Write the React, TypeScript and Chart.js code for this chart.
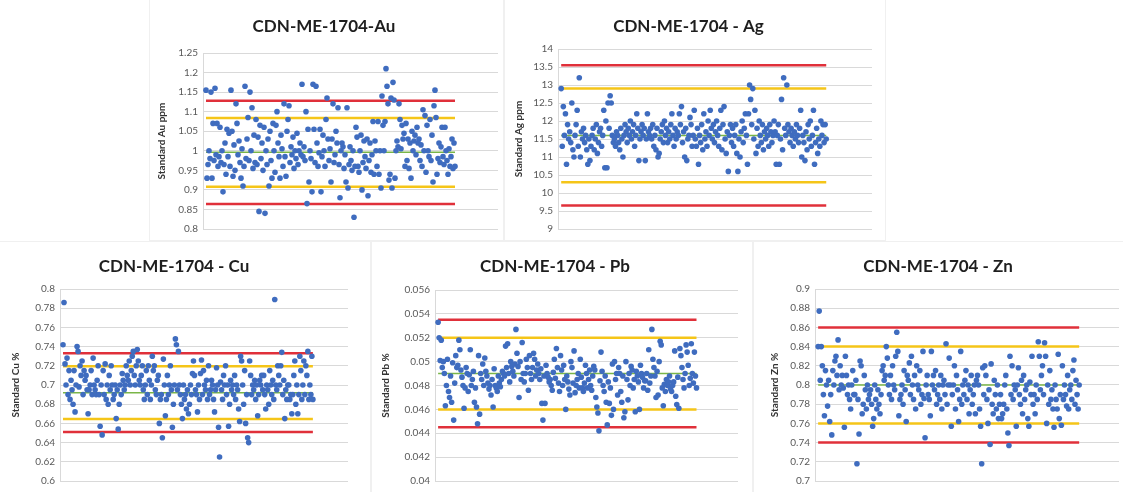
import React, { useEffect, useRef } from "react";
import { Chart, registerables } from "chart.js";

Chart.register(...registerables);

// ---------------- DATA ----------------
const auValues = [
  1.155, 0.93, 0.965, 1.0, 0.98, 1.15, 0.93, 1.07, 0.975, 1.16, 0.99, 1.07, 0.96, 0.985, 1.06, 0.97, 1.0, 0.895, 0.965, 1.02, 0.94, 1.055, 0.985, 1.045, 0.96,
  1.155, 1.05, 0.935, 1.015, 0.95, 1.12, 1.07, 0.99, 1.025, 0.97, 0.93, 1.005, 0.91, 0.96, 1.165, 0.98, 1.03, 1.085, 0.975, 1.15, 1.0, 1.11, 0.955, 1.04, 0.97,
  1.08, 0.965, 1.035, 0.845, 1.065, 0.98, 1.02, 0.95, 1.06, 0.84, 1.0, 0.965, 1.03, 0.91, 1.05, 0.975, 0.93, 1.07, 1.0, 0.945, 1.065, 1.1, 1.02, 0.985, 0.93,
  1.04, 1.005, 0.96, 1.12, 0.985, 0.935, 1.05, 1.08, 1.115, 0.97, 1.01, 0.99, 1.035, 0.955, 1.0, 0.98, 1.045, 0.965, 1.0, 1.02, 0.99, 1.17, 0.985, 1.01, 0.975,
  1.1, 0.865, 1.055, 0.92, 1.0, 0.98, 0.895, 1.17, 1.055, 0.97, 1.165, 1.02, 0.96, 0.995, 1.055, 0.895, 0.985, 1.04, 1.0, 0.96, 1.08, 1.135, 1.03, 0.975, 1.005,
  0.92, 1.03, 1.12, 0.97, 0.99, 1.05, 1.02, 1.11, 0.965, 0.88, 1.0, 1.02, 1.01, 0.955, 0.99, 0.92, 1.11, 0.905, 0.965, 1.01, 0.975, 0.95, 1.0, 0.83, 0.96,
  1.06, 1.035, 0.96, 0.945, 1.0, 1.04, 0.9, 0.97, 1.025, 0.985, 0.955, 1.03, 0.885, 0.975, 1.02, 0.945, 0.99, 1.075, 0.94, 1.025, 1.0, 0.96, 1.075, 0.94, 1.0,
  0.905, 1.14, 1.065, 1.0, 1.075, 1.21, 1.165, 1.12, 0.925, 0.94, 1.135, 0.905, 1.175, 1.13, 0.93, 1.0, 1.025, 1.01, 1.12, 1.08, 1.005, 1.065, 1.03, 1.045, 0.96,
  1.07, 0.975, 1.03, 0.955, 1.02, 0.93, 1.05, 1.0, 1.025, 1.04, 0.99, 1.06, 1.02, 1.03, 0.975, 1.015, 0.96, 1.105, 1.0, 1.09, 0.945, 1.065, 1.0, 0.985, 1.08,
  0.975, 1.04, 0.92, 1.115, 1.155, 1.085, 0.94, 0.98, 1.02, 0.97, 1.01, 1.06, 0.985, 0.965, 1.06, 1.0, 0.975, 0.94, 1.005, 0.96, 0.985, 1.03, 0.955, 1.02, 0.96,
];
const auLimits = [0.864, 0.908, 0.996, 1.084, 1.128];
const auTicks = [0.8, 1.25, 0.05];

const agValues = [
  12.9, 11.3, 12.4, 11.6, 12.2, 10.8, 11.9, 11.5, 11.7, 11.4, 12.5, 11.2, 11.0, 11.6, 11.9, 12.3, 11.3, 13.2, 11.0, 11.7, 11.5, 11.8, 11.4, 11.6, 11.2,
  10.8, 11.5, 10.9, 11.3, 11.6, 11.8, 11.2, 11.5, 11.9, 11.1, 11.4, 11.7, 11.8, 11.3, 11.6, 12.3, 10.7, 12.0, 10.7, 12.5, 11.8, 12.7, 12.5, 11.6, 11.4,
  11.5, 11.3, 11.7, 11.6, 11.4, 11.2, 11.8, 11.5, 11.0, 11.6, 11.9, 11.7, 11.4, 11.8, 11.6, 12.0, 11.5, 11.7, 11.9, 11.3, 11.6, 12.2, 11.8, 10.9, 11.5,
  11.7, 11.9, 11.6, 11.8, 10.9, 11.5, 12.2, 11.7, 11.6, 11.8, 11.5, 11.9, 11.3, 11.6, 11.2, 11.8, 11.0, 11.1, 11.5, 11.7, 11.9, 11.4, 12.0, 11.6, 11.8,
  11.4, 11.7, 11.5, 11.9, 12.2, 11.6, 11.3, 11.8, 11.5, 11.7, 11.6, 12.2, 11.9, 12.4, 11.4, 11.7, 11.0, 11.8, 10.9, 11.5, 11.6, 12.1, 11.9, 11.3, 11.6,
  12.3, 11.5, 11.3, 11.8, 10.8, 11.6, 11.4, 11.9, 11.2, 12.2, 11.5, 11.7, 11.3, 12.0, 11.6, 12.3, 11.8, 11.5, 11.9, 11.4, 11.7, 12.0, 11.6, 11.3, 11.8,
  12.3, 11.2, 11.9, 12.4, 11.5, 11.1, 11.7, 10.6, 11.6, 11.9, 11.4, 11.8, 11.3, 11.6, 11.9, 11.1, 10.6, 11.5, 11.0, 11.7, 12.0, 11.4, 11.8, 12.2, 11.6,
  10.8, 12.2, 13.0, 12.6, 11.9, 12.9, 11.5, 12.3, 11.1, 11.8, 11.3, 12.0, 11.6, 11.4, 11.9, 11.2, 11.7, 11.5, 11.8, 11.6, 11.3, 11.9, 11.7, 11.4, 11.6,
  12.0, 11.7, 10.8, 11.6, 11.9, 10.8, 11.5, 12.6, 11.2, 13.2, 11.8, 11.6, 13.0, 11.9, 11.7, 11.4, 11.8, 11.6, 11.3, 11.7, 11.5, 11.9, 11.6, 11.4, 11.8,
  12.3, 11.0, 11.6, 11.4, 10.9, 11.7, 11.2, 11.9, 11.5, 12.0, 11.3, 11.6, 12.3, 10.8, 11.4, 11.8, 11.1, 11.5, 11.3, 12.0, 11.6, 11.9, 11.4, 11.9, 11.5,
];
const agLimits = [9.65, 10.3, 11.6, 12.9, 13.55];
const agTicks = [9, 14, 0.5];

const cuValues = [
  0.742, 0.786, 0.722, 0.7, 0.728, 0.69, 0.715, 0.685, 0.705, 0.695, 0.68, 0.715, 0.672, 0.7, 0.74, 0.735, 0.698, 0.72, 0.71, 0.725, 0.69, 0.715, 0.705, 0.71, 0.695,
  0.67, 0.695, 0.7, 0.715, 0.69, 0.728, 0.7, 0.695, 0.69, 0.705, 0.72, 0.69, 0.657, 0.7, 0.648, 0.715, 0.69, 0.722, 0.685, 0.7, 0.68, 0.71, 0.695, 0.72, 0.7,
  0.685, 0.69, 0.7, 0.665, 0.695, 0.654, 0.68, 0.7, 0.69, 0.712, 0.705, 0.695, 0.7, 0.72, 0.71, 0.705, 0.725, 0.7, 0.715, 0.73, 0.735, 0.71, 0.7, 0.72, 0.737,
  0.725, 0.705, 0.7, 0.71, 0.72, 0.695, 0.685, 0.7, 0.715, 0.69, 0.72, 0.705, 0.685, 0.7, 0.73, 0.715, 0.72, 0.695, 0.69, 0.705, 0.71, 0.66, 0.685, 0.69, 0.645,
  0.727, 0.7, 0.668, 0.685, 0.71, 0.69, 0.7, 0.72, 0.695, 0.656, 0.68, 0.7, 0.748, 0.742, 0.695, 0.735, 0.7, 0.69, 0.68, 0.665, 0.7, 0.685, 0.69, 0.675, 0.695,
  0.67, 0.68, 0.7, 0.69, 0.712, 0.725, 0.71, 0.695, 0.69, 0.672, 0.7, 0.685, 0.712, 0.726, 0.69, 0.715, 0.7, 0.695, 0.705, 0.685, 0.72, 0.69, 0.695, 0.705, 0.7,
  0.685, 0.672, 0.695, 0.718, 0.7, 0.656, 0.625, 0.703, 0.695, 0.685, 0.71, 0.7, 0.72, 0.69, 0.7, 0.657, 0.68, 0.705, 0.695, 0.7, 0.69, 0.71, 0.685, 0.7, 0.695,
  0.675, 0.662, 0.73, 0.725, 0.7, 0.68, 0.715, 0.66, 0.69, 0.645, 0.64, 0.725, 0.71, 0.69, 0.7, 0.695, 0.705, 0.685, 0.7, 0.668, 0.69, 0.705, 0.7, 0.71, 0.695,
  0.71, 0.69, 0.675, 0.7, 0.695, 0.68, 0.715, 0.7, 0.69, 0.705, 0.685, 0.789, 0.7, 0.695, 0.72, 0.71, 0.7, 0.72, 0.734, 0.69, 0.705, 0.665, 0.695, 0.685, 0.7,
  0.7, 0.685, 0.69, 0.67, 0.69, 0.71, 0.725, 0.68, 0.7, 0.67, 0.69, 0.73, 0.715, 0.685, 0.7, 0.725, 0.69, 0.72, 0.71, 0.735, 0.685, 0.7, 0.69, 0.73, 0.685,
];
const cuLimits = [0.651, 0.6645, 0.692, 0.7195, 0.733];
const cuTicks = [0.6, 0.8, 0.02];

const pbValues = [
  0.0533, 0.052, 0.0501, 0.0518, 0.0495, 0.05, 0.049, 0.0463, 0.048, 0.0502, 0.0475, 0.047, 0.0488, 0.0466, 0.0499, 0.0451, 0.0482, 0.0505, 0.0495, 0.0497, 0.0518, 0.051, 0.0493, 0.0487, 0.048,
  0.0461, 0.0478, 0.0495, 0.049, 0.0475, 0.0489, 0.051, 0.048, 0.0485, 0.0492, 0.0466, 0.0478, 0.0462, 0.0448, 0.0505, 0.0456, 0.049, 0.0485, 0.0498, 0.048, 0.0503, 0.0492, 0.0488, 0.0482, 0.0477,
  0.048, 0.0472, 0.0485, 0.0462, 0.0494, 0.048, 0.0478, 0.0475, 0.0488, 0.0482, 0.0479, 0.0485, 0.0492, 0.049, 0.0488, 0.0513, 0.0495, 0.0515, 0.049, 0.0483, 0.05, 0.0496, 0.0492, 0.0488, 0.0498,
  0.0527, 0.0507, 0.0496, 0.047, 0.05, 0.0485, 0.0516, 0.049, 0.0483, 0.049, 0.0502, 0.0495, 0.0476, 0.0505, 0.049, 0.0485, 0.0495, 0.0507, 0.0502, 0.0488, 0.0493, 0.0498, 0.049, 0.0485, 0.0494,
  0.0465, 0.0451, 0.0488, 0.0465, 0.0497, 0.049, 0.0487, 0.0483, 0.0485, 0.048, 0.0476, 0.0491, 0.0502, 0.0486, 0.0511, 0.0495, 0.0482, 0.0475, 0.0505, 0.0493, 0.048, 0.0497, 0.0485, 0.046, 0.0488,
  0.0483, 0.0477, 0.0472, 0.05, 0.0495, 0.0482, 0.0509, 0.0474, 0.048, 0.0485, 0.049, 0.0478, 0.0502, 0.0487, 0.0478, 0.0475, 0.0482, 0.0497, 0.049, 0.0478, 0.0485, 0.0493, 0.048, 0.0476, 0.0488,
  0.0496, 0.0493, 0.047, 0.0462, 0.0457, 0.0442, 0.0484, 0.0508, 0.0492, 0.048, 0.0475, 0.0488, 0.0466, 0.0447, 0.0483, 0.0465, 0.0478, 0.0455, 0.0498, 0.046, 0.05, 0.0485, 0.049, 0.0472, 0.0495,
  0.049, 0.0475, 0.0466, 0.0488, 0.0453, 0.0458, 0.05, 0.0485, 0.0468, 0.049, 0.048, 0.0496, 0.0493, 0.0478, 0.0485, 0.0458, 0.0492, 0.0488, 0.0483, 0.046, 0.0497, 0.049, 0.0487, 0.0478, 0.0484,
  0.0484, 0.049, 0.0476, 0.051, 0.0482, 0.0488, 0.0527, 0.0502, 0.0495, 0.0488, 0.047, 0.0492, 0.0472, 0.05, 0.0517, 0.0514, 0.0478, 0.0463, 0.0481, 0.0475, 0.0485, 0.048, 0.0483, 0.0488, 0.0477,
  0.0475, 0.048, 0.0483, 0.0509, 0.0471, 0.0464, 0.0487, 0.0461, 0.0511, 0.0505, 0.0495, 0.0485, 0.0478, 0.049, 0.0514, 0.0508, 0.0497, 0.048, 0.0486, 0.0515, 0.049, 0.0482, 0.0508, 0.0488, 0.0478,
];
const pbLimits = [0.0445, 0.046, 0.049, 0.052, 0.0535];
const pbTicks = [0.04, 0.056, 0.002];

const znValues = [
  0.84, 0.877, 0.805, 0.84, 0.82, 0.79, 0.768, 0.815, 0.8, 0.778, 0.805, 0.762, 0.79, 0.748, 0.815, 0.8, 0.825, 0.83, 0.81, 0.847, 0.795, 0.82, 0.8, 0.81, 0.797,
  0.756, 0.83, 0.81, 0.79, 0.8, 0.785, 0.775, 0.8, 0.815, 0.79, 0.79, 0.805, 0.718, 0.785, 0.749, 0.825, 0.82, 0.77, 0.78, 0.81, 0.795, 0.775, 0.8, 0.785, 0.79,
  0.795, 0.78, 0.757, 0.765, 0.8, 0.785, 0.775, 0.795, 0.78, 0.77, 0.79, 0.815, 0.82, 0.805, 0.81, 0.84, 0.828, 0.8, 0.79, 0.81, 0.785, 0.82, 0.8, 0.795, 0.83,
  0.855, 0.835, 0.768, 0.785, 0.79, 0.8, 0.78, 0.815, 0.795, 0.762, 0.81, 0.805, 0.823, 0.79, 0.83, 0.8, 0.785, 0.81, 0.775, 0.82, 0.8, 0.795, 0.815, 0.78, 0.79,
  0.835, 0.786, 0.745, 0.8, 0.81, 0.79, 0.785, 0.768, 0.835, 0.8, 0.81, 0.795, 0.815, 0.78, 0.79, 0.8, 0.785, 0.81, 0.775, 0.8, 0.805, 0.79, 0.843, 0.78, 0.8,
  0.828, 0.8, 0.757, 0.79, 0.8, 0.82, 0.775, 0.81, 0.795, 0.762, 0.785, 0.835, 0.78, 0.8, 0.79, 0.805, 0.815, 0.785, 0.8, 0.77, 0.795, 0.81, 0.78, 0.79, 0.8,
  0.77, 0.805, 0.81, 0.8, 0.775, 0.757, 0.718, 0.818, 0.79, 0.82, 0.81, 0.785, 0.76, 0.795, 0.738, 0.822, 0.78, 0.77, 0.805, 0.79, 0.775, 0.8, 0.765, 0.78, 0.79,
  0.765, 0.77, 0.78, 0.8, 0.81, 0.775, 0.75, 0.737, 0.83, 0.79, 0.82, 0.785, 0.8, 0.795, 0.757, 0.8, 0.818, 0.79, 0.78, 0.805, 0.77, 0.81, 0.785, 0.795, 0.8,
  0.765, 0.757, 0.803, 0.79, 0.83, 0.78, 0.79, 0.77, 0.8, 0.785, 0.845, 0.83, 0.795, 0.81, 0.82, 0.79, 0.844, 0.83, 0.76, 0.8, 0.78, 0.815, 0.785, 0.795, 0.775,
  0.756, 0.8, 0.785, 0.775, 0.832, 0.765, 0.79, 0.758, 0.82, 0.785, 0.8, 0.79, 0.778, 0.81, 0.775, 0.795, 0.8, 0.785, 0.815, 0.826, 0.78, 0.805, 0.79, 0.775, 0.8,
];
const znLimits = [0.74, 0.76, 0.8, 0.84, 0.86];
const znTicks = [0.7, 0.9, 0.02];

const chartTitles = [
  "CDN-ME-1704-Au",
  "CDN-ME-1704 - Ag",
  "CDN-ME-1704 - Cu",
  "CDN-ME-1704 - Pb",
  "CDN-ME-1704 - Zn",
];
const axisTitles = [
  "Standard Au ppm",
  "Standard Ag ppm",
  "Standard Cu %",
  "Standard Pb %",
  "Standard Zn %",
];

// ---------------- STYLE / LAYOUT ----------------
const FONT = "Lato, 'Open Sans', 'DejaVu Sans', sans-serif";
const BLUE = "#3f6cbf";
const RED = "#e0303a";
const YELLOW = "#f5c518";
const GREEN = "#7ab648";
const GRID = "#d9d9d9";
const LIMIT_COLORS = [RED, YELLOW, GREEN, YELLOW, RED];
const LIMIT_WIDTHS = [2.5, 2.5, 1.5, 2.5, 2.5];

type Spec = {
  title: string;
  yTitle: string;
  values: number[];
  limits: number[];
  ticks: number[];
  box: { left: number; top: number; w: number; h: number };
  axisW: number;
  padR: number;
  padB: number;
  titleTop: number;
  titleBottom: number;
  yTitlePad: number;
  xMax: number;
};

const specs: Spec[] = [
  { title: chartTitles[0], yTitle: axisTitles[0], values: auValues, limits: auLimits, ticks: auTicks,
    box: { left: 150, top: 0, w: 353, h: 240 }, axisW: 53, padR: 5, padB: 11, titleTop: 16.8, titleBottom: 15.8, yTitlePad: 6, xMax: 293 },
  { title: chartTitles[1], yTitle: axisTitles[1], values: agValues, limits: agLimits, ticks: agTicks,
    box: { left: 505, top: 0, w: 380, h: 240 }, axisW: 53, padR: 13, padB: 10, titleTop: 16.8, titleBottom: 11.8, yTitlePad: 8, xMax: 293 },
  { title: chartTitles[2], yTitle: axisTitles[2], values: cuValues, limits: cuLimits, ticks: cuTicks,
    box: { left: 0, top: 242, w: 370, h: 250 }, axisW: 60, padR: 22, padB: 9, titleTop: 14.8, titleBottom: 11.8, yTitlePad: 10, xMax: 285 },
  { title: chartTitles[3], yTitle: axisTitles[3], values: pbValues, limits: pbLimits, ticks: pbTicks,
    box: { left: 372, top: 242, w: 380, h: 250 }, axisW: 63, padR: 14, padB: 9, titleTop: 14.8, titleBottom: 12.8, yTitlePad: 8, xMax: 290 },
  { title: chartTitles[4], yTitle: axisTitles[4], values: znValues, limits: znLimits, ticks: znTicks,
    box: { left: 754, top: 242, w: 369, h: 250 }, axisW: 61, padR: 1, padB: 11, titleTop: 14.8, titleBottom: 11.8, yTitlePad: 15, xMax: 288 },
];

function Panel({ spec }: { spec: Spec }) {
  const ref = useRef<HTMLCanvasElement | null>(null);
  useEffect(() => {
    if (!ref.current) return;
    const n = spec.values.length;
    const points = spec.values.map((v, i) => ({ x: i + 1, y: v }));
    const lineSets = spec.limits.map((v, k) => ({
      data: [{ x: 1, y: v }, { x: n, y: v }],
      showLine: true,
      borderColor: LIMIT_COLORS[k],
      backgroundColor: LIMIT_COLORS[k],
      borderWidth: LIMIT_WIDTHS[k],
      pointRadius: 0,
      fill: false,
      order: 2,
    }));
    const [yMin, yMax, yStep] = spec.ticks;
    const chart = new Chart(ref.current, {
      type: "scatter",
      data: {
        datasets: [
          ...lineSets,
          {
            data: points,
            backgroundColor: BLUE,
            borderColor: BLUE,
            borderWidth: 0,
            pointRadius: 2.8,
            order: 1,
          },
        ],
      },
      options: {
        responsive: false,
        animation: false,
        devicePixelRatio: 1,
        layout: { padding: { top: 0, left: 0, right: spec.padR, bottom: spec.padB } },
        plugins: {
          legend: { display: false },
          tooltip: { enabled: false },
          title: {
            display: true,
            text: spec.title,
            color: "#1e1e1e",
            font: { family: FONT, size: 17, weight: "bold", lineHeight: 1.2 },
            padding: { top: spec.titleTop, bottom: spec.titleBottom },
          },
        },
        scales: {
          x: { type: "linear", display: false, min: -2, max: spec.xMax },
          y: {
            min: yMin,
            max: yMax,
            afterFit: (s: any) => {
              s.width = spec.axisW;
            },
            ticks: {
              stepSize: yStep,
              color: "#595959",
              padding: 5,
              font: { family: FONT, size: 10 },
              callback: (v: any) => String(+Number(v).toFixed(4)),
            },
            grid: { color: GRID, lineWidth: 1, drawTicks: false },
            border: { display: true, color: GRID },
            title: {
              display: true,
              text: spec.yTitle,
              color: "#333333",
              font: { family: FONT, size: 10, weight: "bold" },
              padding: { top: spec.yTitlePad, bottom: 0 },
            },
          },
        },
      },
    } as any);
    return () => chart.destroy();
  }, [spec]);
  const b = spec.box;
  return (
    <div
      style={{
        position: "absolute",
        left: b.left,
        top: b.top,
        width: b.w,
        height: b.h,
        outline: "1px solid #f0f0f0",
        background: "#ffffff",
      }}
    >
      <canvas ref={ref} width={b.w} height={b.h} style={{ display: "block" }} />
    </div>
  );
}

export default function App() {
  return (
    <div
      style={{
        position: "absolute",
        left: 0,
        top: 0,
        width: 1123,
        height: 492,
        background: "#ffffff",
        overflow: "hidden",
      }}
    >
      {specs.map((s, i) => (
        <Panel key={i} spec={s} />
      ))}
    </div>
  );
}
